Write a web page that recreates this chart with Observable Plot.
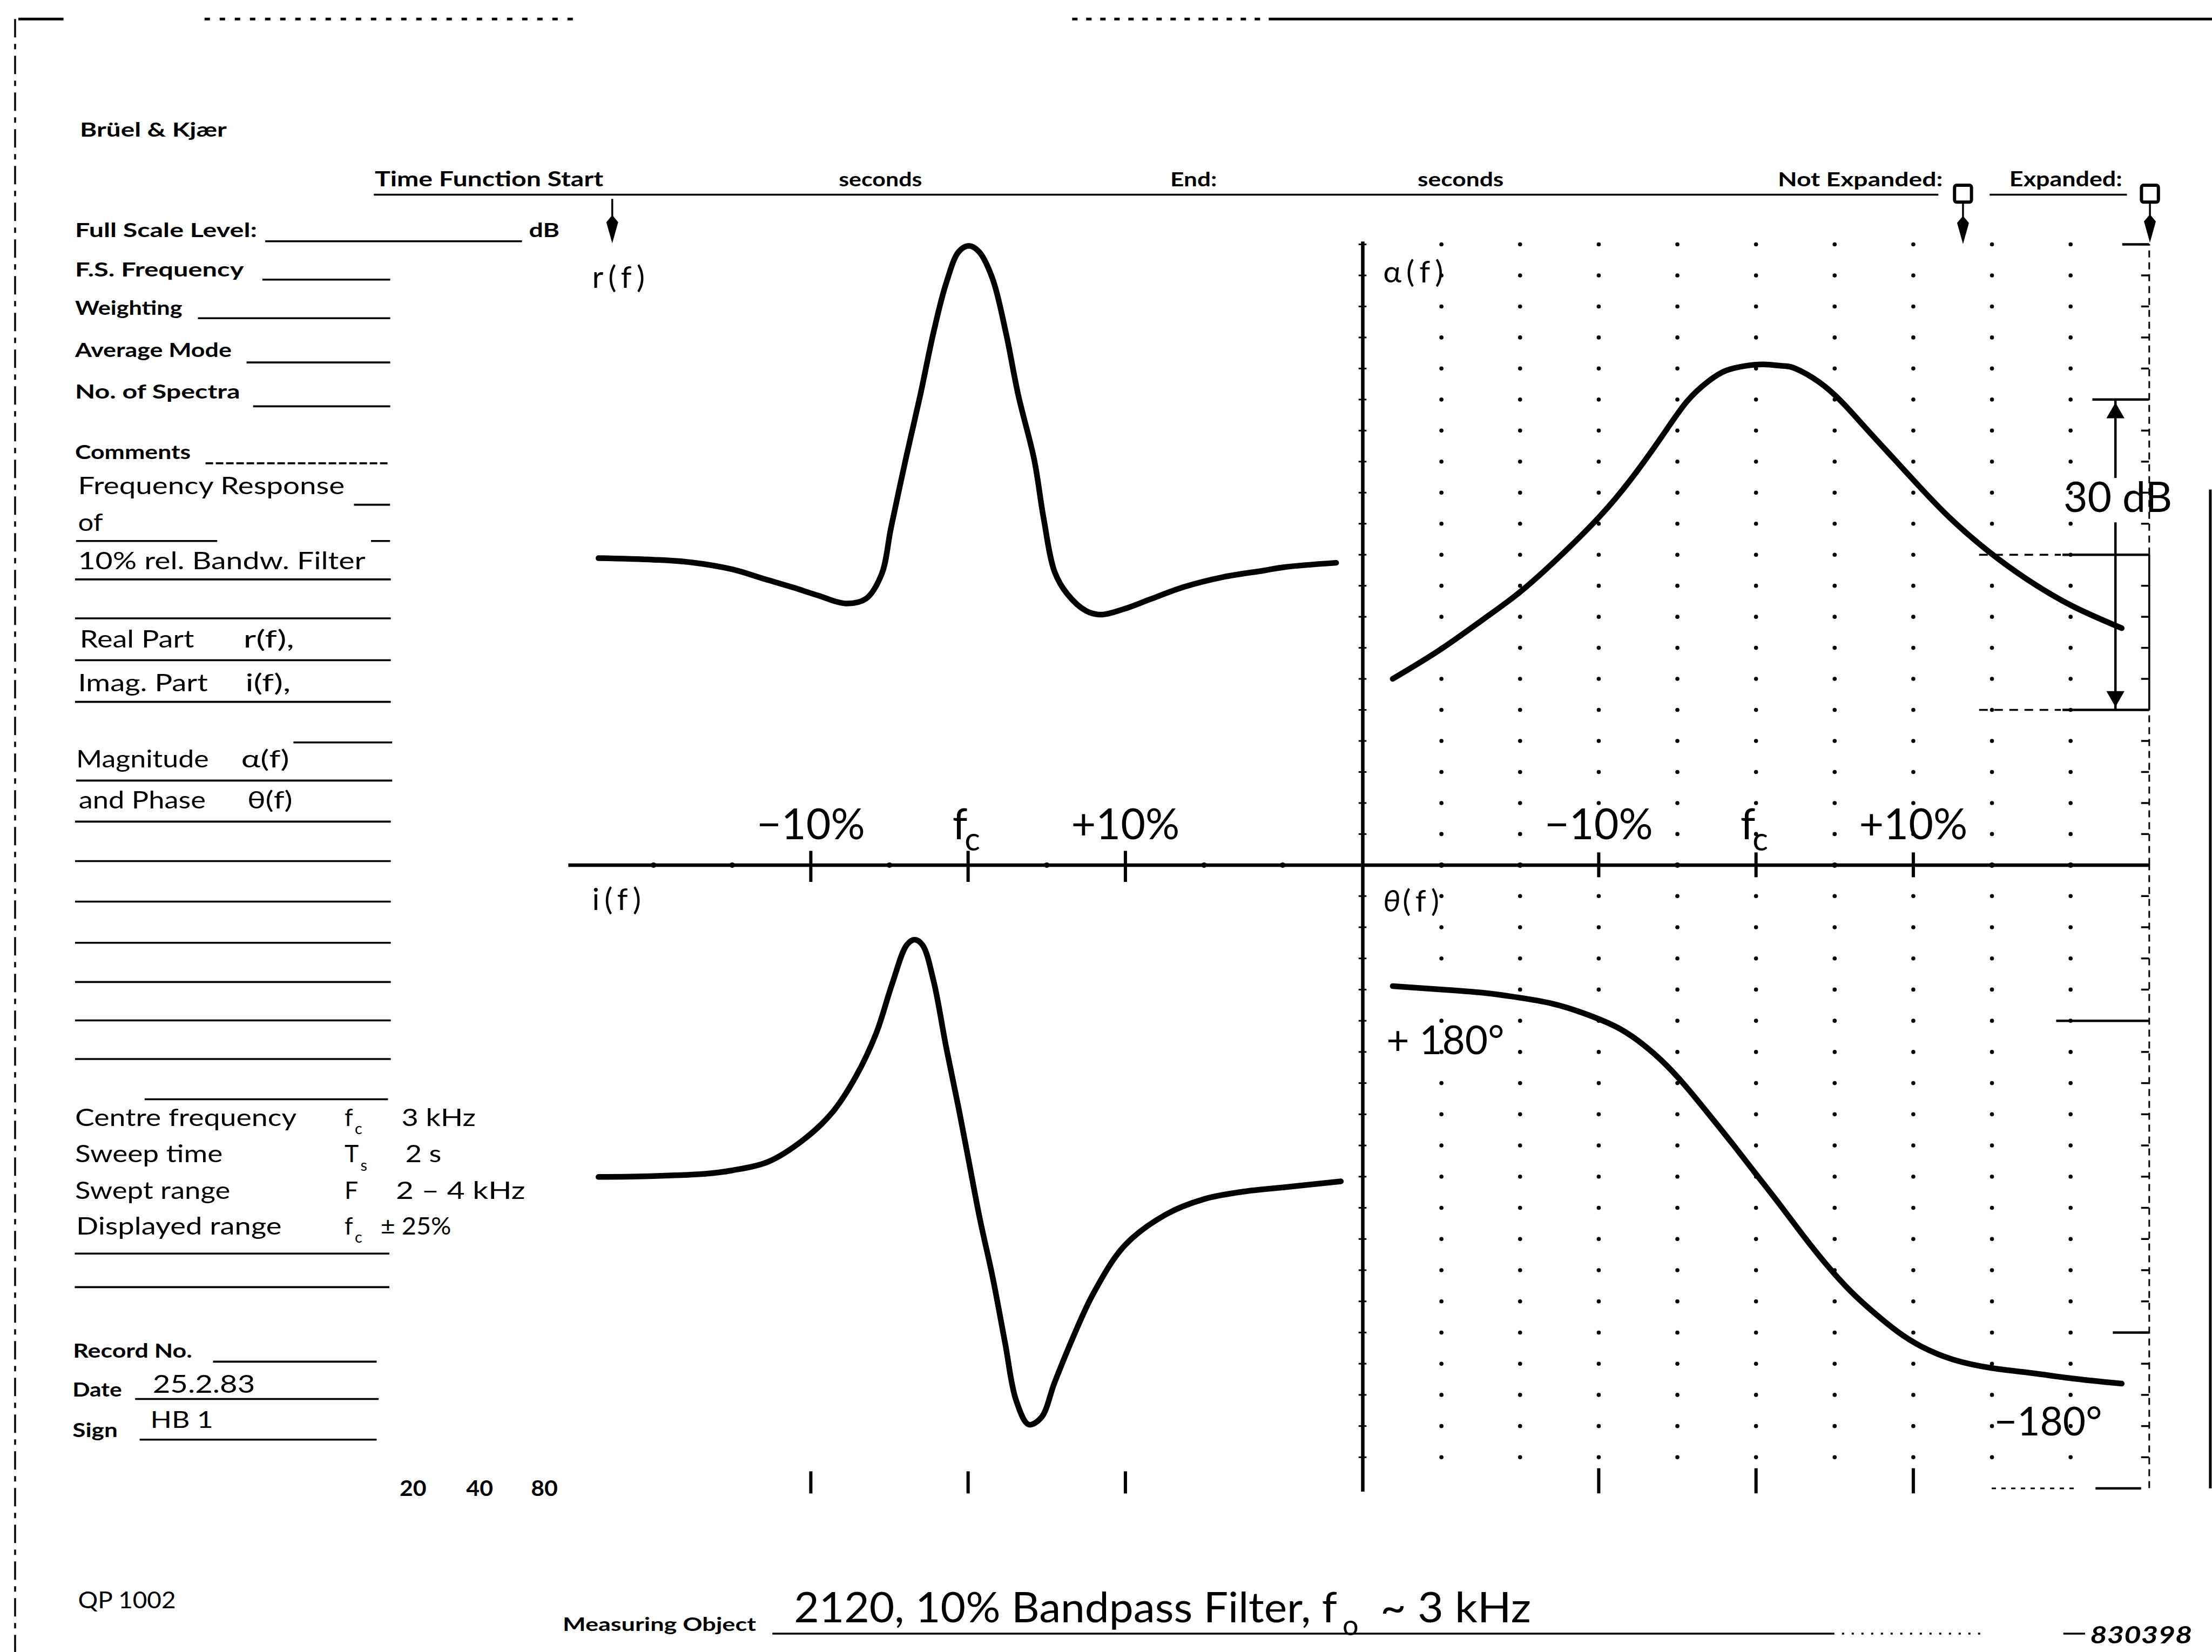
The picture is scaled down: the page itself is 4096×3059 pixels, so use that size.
<!DOCTYPE html>
<html>
<head>
<meta charset="utf-8">
<script src="https://cdn.jsdelivr.net/npm/d3@7"></script>
<script src="https://cdn.jsdelivr.net/npm/@observablehq/plot@0.6"></script>
<style>
  html, body { margin: 0; padding: 0; background: #fff; }
  #page { position: relative; width: 4096px; height: 3059px; overflow: hidden; background: #fff; }
  #page > svg { position: absolute; overflow: visible; }
</style>
</head>
<body>
<div id="page"></div>
<script>
// ---------------- values read from the record ----------------
const pctTicksMajor = [-10, 0, 10];
const pctTickLabels = ["−10%", "fc", "+10%"];
const pctTicksMinor = [-20, -15, -5, 5, 15, 20];
const gridCols = [-20, -15, -10, -5, 0, 5, 10, 15, 20];
const dbGrid = [-57, -54, -51, -48, -45, -42, -39, -36, -33, -30, -27, -24, -21, -18, -15, -12, -9, -6, -3, 0];
const degGrid = [-324, -288, -252, -216, -180, -144, -108, -72, -36, 0, 36, 72, 108, 144, 180, 216, 252, 288, 324];
const dbBracket = [-15, -30, -45];
const dbBracketLabel = "30 dB";
const degMarks = [180, -180];
const degLabels = ["+ 180°", "−180°"];

// real part r(f), normalised, vs. frequency offset from fc in %
const realPct = [-23.5, -20.0, -17.7, -15.0, -12.9, -11.1, -9.5, -7.8, -6.5, -5.5, -4.9, -3.9, -3.05, -2.2, -1.4, -0.6, 0.05, 0.7, 1.55, 2.4, 3.2, 4.2, 4.8, 5.5, 6.3, 7.5, 8.45, 9.9, 11.6, 13.7, 16.2, 18.8, 20.1, 23.4];
const realVal = [-0.011, -0.016, -0.024, -0.047, -0.079, -0.106, -0.132, -0.157, -0.142, -0.063, 0.087, 0.323, 0.512, 0.716, 0.874, 0.976, 0.995, 0.976, 0.89, 0.716, 0.512, 0.307, 0.118, -0.055, -0.126, -0.181, -0.193, -0.175, -0.143, -0.104, -0.072, -0.051, -0.040, -0.026];
// imaginary part i(f)
const imagPct = [-23.5, -20.0, -16.7, -15.0, -12.7, -10.45, -8.65, -7.15, -5.85, -4.85, -3.9, -3.4, -2.9, -2.2, -1.4, -0.6, 0.05, 0.75, 1.55, 2.35, 3.05, 3.85, 4.65, 5.5, 6.65, 7.95, 9.95, 12.55, 15.0, 17.5, 20.1, 23.7];
const imagVal = [-0.001, 0.002, 0.009, 0.02, 0.048, 0.119, 0.205, 0.32, 0.459, 0.615, 0.743, 0.76, 0.743, 0.629, 0.417, 0.219, 0.048, -0.136, -0.32, -0.533, -0.717, -0.795, -0.773, -0.66, -0.518, -0.376, -0.221, -0.122, -0.072, -0.048, -0.034, -0.015];
// magnitude a(f) in dB (3 dB per division)
const magPct = [-23.1, -20.1, -17.3, -15.0, -12.5, -10.0, -8.0, -6.0, -4.4, -3.0, -1.9, -0.7, 0.5, 1.7, 2.5, 4.0, 5.5, 7.0, 8.75, 10.2, 12.3, 14.8, 17.25, 20.1, 23.25];
const magDb = [-42.0, -39.2, -36.2, -33.6, -30.2, -26.4, -22.8, -18.6, -15.2, -13.2, -12.2, -11.75, -11.6, -11.75, -12.0, -13.3, -15.3, -17.8, -20.7, -23.1, -26.4, -29.7, -32.4, -34.95, -37.1];
// phase theta(f) in degrees (36 deg per division)
const phasePct = [-23.1, -19.9, -17.45, -15.15, -13.0, -11.0, -9.0, -7.5, -6.0, -4.5, -3.0, -1.5, 0.0, 1.5, 3.0, 4.5, 6.0, 7.5, 9.0, 10.5, 12.5, 15.0, 17.6, 20.1, 23.25];
const phaseDeg = [220, 216, 212.5, 207, 200, 189, 174, 157, 134, 105, 72, 38, 3, -32, -68, -102, -132, -157, -179, -196, -211, -221, -227, -233, -239];

// ---------------- layout ----------------
const K = 4096 / 1568;            // reference (shown) px -> page px
const S = v => v * K;
const FONT = "Lato, 'Open Sans', 'DejaVu Sans', sans-serif";
const page = document.getElementById("page");

const realData = realPct.map((p, i) => ({pct: p, val: realVal[i]}));
const imagData = imagPct.map((p, i) => ({pct: p, val: imagVal[i]}));
const magData = magPct.map((p, i) => ({pct: p, val: magDb[i]}));
const phaseData = phasePct.map((p, i) => ({pct: p, val: phaseDeg[i]}));
const tickLabelData = pctTicksMajor.map((p, i) => ({pct: p, label: pctTickLabels[i]}));
const magGrid = gridCols.flatMap(c => dbGrid.map(r => ({c, r})));
const phaseGrid = gridCols.flatMap(c => degGrid.map(r => ({c, r})));

const PL = {x0: 407.5, x1: 965}, PR = {x0: 966, x1: 1523.5};
const TOP = {y0: 173, y1: 613}, BOT = {y0: 613, y1: 1055};

function panel(px, py, yDomain, marks) {
  const M = 120;
  const w = S(px.x1 - px.x0), h = S(py.y1 - py.y0);
  const svg = Plot.plot({
    width: w + 2 * M, height: h + 2 * M,
    marginLeft: M, marginRight: M, marginTop: M, marginBottom: M,
    x: {domain: [-25, 25], axis: null},
    y: {domain: yDomain, axis: null},
    style: {background: "none", overflow: "visible", maxWidth: "none", fontFamily: FONT, color: "black"},
    marks
  });
  svg.style.position = "absolute";
  svg.style.left = (S(px.x0) - M) + "px";
  svg.style.top = (S(py.y0) - M) + "px";
  page.appendChild(svg);
  d3.select(svg).selectAll("text").filter(function () { return /\(f\)/.test(this.textContent); })
    .attr("letter-spacing", 9);
  return svg;
}

const curve = (data, kind) => Plot.line(data, {x: "pct", y: "val", curve: kind, stroke: "black",
  strokeWidth: 10.5, strokeLinecap: "round", strokeLinejoin: "round"});

function tickLabels(yv) {
  const plain = tickLabelData.filter(d => d.label !== "fc");
  const fc = tickLabelData.filter(d => d.label === "fc");
  return [
    Plot.text(plain, {x: "pct", y: () => yv, text: "label", fontSize: 79, fontFamily: FONT, fill: "black"}),
    Plot.text(fc, {x: "pct", y: () => yv, text: d => d.label[0], fontSize: 79, dx: -15, fontFamily: FONT, fill: "black"}),
    Plot.text(fc, {x: "pct", y: () => yv, text: d => d.label[1], fontSize: 60, dx: 8, dy: 27, fontFamily: FONT, fill: "black"})
  ];
}

// ---- r(f) ----
panel(PL, TOP, [-1, 1], [
  Plot.ruleY([-1], {x1: -25.4, x2: 25, strokeWidth: 6.5}),
  Plot.ruleX(pctTicksMajor, {y1: -1.055, y2: -0.955, strokeWidth: 6}),
  Plot.dot(pctTicksMinor, {x: d => d, y: () => -1, r: 5, fill: "black", stroke: null}),
  curve(realData, "catmull-rom"),
  ...tickLabels(-0.873),
  Plot.text(["r(f)"], {x: () => -23.9, y: () => 0.891, text: d => d, textAnchor: "start", fontSize: 57, fontFamily: FONT, fill: "black"})
]);

// ---- i(f) ----
panel(PL, BOT, [-1, 1], [
  Plot.ruleX(pctTicksMajor, {y1: -1.017, y2: -0.946, strokeWidth: 6}),
  curve(imagData, "catmull-rom"),
  Plot.text(["i(f)"], {x: () => -23.9, y: () => 0.887, text: d => d, textAnchor: "start", fontSize: 57, fontFamily: FONT, fill: "black"})
]);

// ---- a(f) magnitude ----
panel(PR, TOP, [-60, 0], [
  Plot.dot(magGrid, {x: "c", y: "r", r: 3.8, fill: "black", stroke: null}),
  Plot.ruleY(dbGrid, {x1: -25.25, x2: -24.75, strokeWidth: 3}),
  Plot.ruleX([-25], {y1: -60, y2: 0.25, strokeWidth: 6.5}),
  Plot.ruleY([-60], {x1: -25, x2: 25, strokeWidth: 6.5}),
  Plot.ruleX(pctTicksMajor, {y1: -61.2, y2: -58.8, strokeWidth: 6}),
  Plot.dot(pctTicksMinor, {x: d => d, y: () => -60, r: 5, fill: "black", stroke: null}),
  Plot.ruleX([25], {y1: -30, y2: 0, strokeWidth: 3, strokeDasharray: "13,9"}),
  Plot.ruleX([25], {y1: -60, y2: -45, strokeWidth: 3, strokeDasharray: "13,9"}),
  Plot.ruleX([25], {y1: -45, y2: -30, strokeWidth: 3.5}),
  Plot.ruleY(dbGrid, {x1: 24.5, x2: 25, strokeWidth: 3.5}),
  Plot.ruleY([0], {x1: 23.3, x2: 25, strokeWidth: 4.5}),
  // 30 dB bracket
  Plot.ruleY([dbBracket[0]], {x1: 21.4, x2: 25, strokeWidth: 4.5}),
  Plot.ruleY(dbBracket.slice(1), {x1: 14.2, x2: 19.4, strokeWidth: 3.5, strokeDasharray: "16,12"}),
  Plot.ruleY(dbBracket.slice(1), {x1: 19.5, x2: 25, strokeWidth: 4.5}),
  Plot.ruleX([22.85], {y1: dbBracket[0], y2: -22.6, strokeWidth: 4.5}),
  Plot.ruleX([22.85], {y1: -26.9, y2: dbBracket[2], strokeWidth: 4.5}),
  Plot.dot([dbBracket[0]], {x: () => 22.85, y: d => d, symbol: "triangle2", r: 16, dy: 25, fill: "black", stroke: null}),
  Plot.dot([dbBracket[2]], {x: () => 22.85, y: d => d, symbol: "triangle2", r: 16, dy: -25, rotate: 180, fill: "black", stroke: null}),
  Plot.text([dbBracketLabel], {x: () => 23.0, y: () => -24.6, text: d => d, fontSize: 77, fontFamily: FONT, fill: "black"}),
  curve(magData, "natural"),
  ...tickLabels(-56.18),
  Plot.text(["α(f)"], {x: () => -23.7, y: () => -2.73, text: d => d, textAnchor: "start", fontSize: 57, fontFamily: FONT, fill: "black"})
]);

// ---- theta(f) phase ----
panel(PR, BOT, [-360, 360], [
  Plot.dot(phaseGrid, {x: "c", y: "r", r: 3.8, fill: "black", stroke: null}),
  Plot.ruleY(degGrid, {x1: -25.25, x2: -24.75, strokeWidth: 3}),
  Plot.ruleX([-25], {y1: -364, y2: 360, strokeWidth: 6.5}),
  Plot.ruleX([25], {y1: -360, y2: 360, strokeWidth: 3, strokeDasharray: "13,9"}),
  Plot.ruleY(degGrid, {x1: 24.5, x2: 25, strokeWidth: 3.5}),
  Plot.ruleY([degMarks[0]], {x1: 19.1, x2: 25, strokeWidth: 4.5}),
  Plot.ruleY([degMarks[1]], {x1: 22.7, x2: 25, strokeWidth: 4.5}),
  Plot.ruleY([-360], {x1: 15, x2: 20.5, strokeWidth: 3, strokeDasharray: "8,10"}),
  Plot.ruleY([-360], {x1: 21.6, x2: 24.5, strokeWidth: 4.5}),
  Plot.ruleX(pctTicksMajor, {y1: -366, y2: -337, strokeWidth: 6}),
  curve(phaseData, "natural"),
  Plot.text([degLabels[0]], {x: () => -23.5, y: () => 156, text: d => d, textAnchor: "start", fontSize: 73, fontFamily: FONT, fill: "black"}),
  Plot.text([degLabels[1]], {x: () => 22.0, y: () => -284, text: d => d, textAnchor: "end", fontSize: 73, fontFamily: FONT, fill: "black"}),
  Plot.text(["θ"], {x: () => -23.7, y: () => 317.6, text: d => d, textAnchor: "start", fontStyle: "italic", fontSize: 57, fontFamily: FONT, fill: "black"}),
  Plot.text(["(f)"], {x: () => -23.7, y: () => 317.6, text: d => d, dx: 36, textAnchor: "start", fontSize: 57, fontFamily: FONT, fill: "black"})
]);

// ---------------- the printed recording form ----------------
const form = d3.select(page).insert("svg", ":first-child")
  .attr("width", 4096).attr("height", 3059).style("left", "0px").style("top", "0px");

const formText = [
  ["Brüel & Kjær", 56.7, 97, 14, {b: 1, w: 104}],
  ["Time Function Start", 265.7, 132, 14.5, {b: 1, w: 162}],
  ["seconds", 594.6, 132, 14, {b: 1, w: 59}],
  ["End:", 829.6, 132, 14, {b: 1, w: 33}],
  ["seconds", 1004.9, 132, 14, {b: 1, w: 61}],
  ["Not Expanded:", 1260.2, 132, 14, {b: 1, w: 117}],
  ["Expanded:", 1424.4, 132, 14.5, {b: 1, w: 80}],
  ["Full Scale Level:", 53.2, 168, 14, {b: 1, w: 129}],
  ["dB", 375, 168, 14, {b: 1, w: 21.6}],
  ["F.S. Frequency", 53.2, 196, 14, {b: 1, w: 119.6}],
  ["Weighting", 53.2, 223.2, 14, {b: 1, w: 76}],
  ["Average Mode", 53.2, 253, 14, {b: 1, w: 111}],
  ["No. of Spectra", 53.2, 282.5, 14, {b: 1, w: 117}],
  ["Comments", 53.2, 325.2, 14, {b: 1, w: 82}],
  ["Frequency Response", 55.3, 350.2, 17, {w: 189}],
  ["of", 55.3, 376.3, 17, {w: 17.6}],
  ["10% rel. Bandw. Filter", 55.3, 403.6, 17, {w: 203.7}],
  ["Real Part", 56.6, 459, 17, {w: 81}],
  ["r(f),", 172.6, 459, 17, {w: 36}],
  ["Imag. Part", 55.3, 490, 17, {w: 92}],
  ["i(f),", 174, 490, 17, {w: 32}],
  ["Magnitude", 54, 544, 17, {w: 94}],
  ["α(f)", 171, 544, 17, {w: 34}],
  ["and Phase", 55.8, 573, 17, {w: 90}],
  ["θ(f)", 175.3, 573, 17, {w: 32}],
  ["Centre frequency", 53.2, 798, 17, {w: 157}],
  ["f", 244.2, 798, 17, {}],
  ["c", 251.5, 804, 11, {}],
  ["3 kHz", 284.6, 798, 17, {w: 52.6}],
  ["Sweep time", 53.2, 824, 17, {w: 104.6}],
  ["T", 244.2, 824, 17, {}],
  ["s", 255.5, 830, 11, {}],
  ["2 s", 287.3, 824, 17, {w: 25.6}],
  ["Swept range", 53.2, 850, 17, {w: 110}],
  ["F", 244.2, 850, 17, {}],
  ["2 – 4 kHz", 280.6, 850, 17, {w: 91.7}],
  ["Displayed range", 54, 875, 17, {w: 145.6}],
  ["f", 244.2, 875, 17, {}],
  ["c", 251.5, 881, 11, {}],
  ["± 25%", 269.8, 875, 17, {w: 50}],
  ["Record No.", 51.8, 962.5, 14, {b: 1, w: 84.4}],
  ["Date", 51.4, 990, 14, {b: 1, w: 35}],
  ["25.2.83", 108.2, 987.3, 18, {w: 72.6}],
  ["Sign", 51.4, 1018.6, 14, {b: 1, w: 32}],
  ["HB 1", 106.6, 1012, 16, {w: 44.5}],
  ["20", 283.3, 1060.4, 15, {b: 1, w: 19}],
  ["40", 330.5, 1060.4, 15, {b: 1, w: 19}],
  ["80", 376.4, 1060.4, 15, {b: 1, w: 19}],
  ["QP 1002", 55.3, 1140, 16, {w: 69.3}],
  ["Measuring Object", 398.9, 1156, 13, {b: 1, w: 137}],
  ["2120, 10% Bandpass Filter, f", 562.8, 1150, 30, {w: 385}],
  ["o", 951.7, 1159, 20, {}],
  ["~ 3 kHz", 978.5, 1150, 30, {w: 106.8}],
  ["830398", 1481.6, 1165, 16.5, {b: 1, i: 1, w: 72.4}]
];
for (const [t, x, y, fs, o] of formText) {
  const e = form.append("text").attr("x", S(x)).attr("y", S(y)).attr("font-size", S(fs))
    .attr("font-family", FONT).attr("font-weight", o.b ? "bold" : "normal").attr("fill", "black").text(t);
  if (o.i) e.attr("font-style", "italic");
  if (o.w) e.attr("textLength", S(o.w)).attr("lengthAdjust", "spacingAndGlyphs");
}

const formLines = [
  [265, 1374, 138], [1410.4, 1507.7, 138],
  [188, 370, 171], [186, 276.6, 198.2], [140.3, 276.6, 225.6], [174.8, 276.6, 256.9], [179.4, 276.6, 288],
  [145.7, 276.6, 328.4, "14,5"], [250.9, 276.5, 357.8],
  [53.9, 154, 383.5], [263, 276.5, 383.5],
  [53.2, 277, 410.7], [53.2, 277, 438.3], [53.2, 277, 468], [53.2, 277, 497.5],
  [208, 278, 526.3], [54, 278, 553.3], [53.2, 277, 582.4],
  [53.2, 277, 610.4], [53.2, 277, 639.1], [53.2, 277, 668.3], [53.2, 277, 696.1], [53.2, 277, 723.3], [53.2, 277, 750.7],
  [102.5, 275, 779.2], [53, 276, 888.6], [53, 276, 912.4],
  [151, 267, 965.2], [95.8, 268.4, 991.7], [99, 267, 1020.5],
  [547.5, 1298.8, 1158], [1298.8, 1405, 1158, "4,14"], [1462.6, 1478, 1158],
  [13, 45, 13.5], [145, 410, 13.5, "10,18"], [760, 900, 13.5, "10,16"], [900, 1568, 13.5]
];
for (const [x1, x2, y, dash] of formLines) {
  const e = form.append("line").attr("x1", S(x1)).attr("x2", S(x2)).attr("y1", S(y)).attr("y2", S(y))
    .attr("stroke", "black").attr("stroke-width", y < 20 ? 5 : 3.6);
  if (dash) e.attr("stroke-dasharray", dash);
}
// page edges
form.append("line").attr("x1", S(10.7)).attr("x2", S(10.7)).attr("y1", S(13.5)).attr("y2", S(1171))
  .attr("stroke", "black").attr("stroke-width", 3.5).attr("stroke-dasharray", "34,12,10,12");
form.append("line").attr("x1", S(1566.8)).attr("x2", S(1566.8)).attr("y1", S(347)).attr("y2", S(1055))
  .attr("stroke", "black").attr("stroke-width", 5);

// header pointers (arrows, with square markers on the expansion switches)
function pointer(x, yStart, tip, square) {
  if (square) {
    form.append("rect").attr("x", S(x - 6)).attr("y", S(131.3)).attr("width", S(12)).attr("height", S(12))
      .attr("rx", 4).attr("fill", "white").attr("stroke", "black").attr("stroke-width", 6);
  }
  form.append("line").attr("x1", S(x)).attr("x2", S(x)).attr("y1", S(yStart)).attr("y2", S(tip - 8))
    .attr("stroke", "black").attr("stroke-width", 3.5);
  const pts = [[x, tip - 20], [x + 4.2, tip - 15], [x, tip], [x - 4.2, tip - 15]].map(p => p.map(S).join(",")).join(" ");
  form.append("polygon").attr("points", pts).attr("fill", "black");
}
pointer(434, 141, 172.5, false);
pointer(1391.5, 143.3, 173, true);
pointer(1524, 143.3, 172, true);
</script>
</body>
</html>
